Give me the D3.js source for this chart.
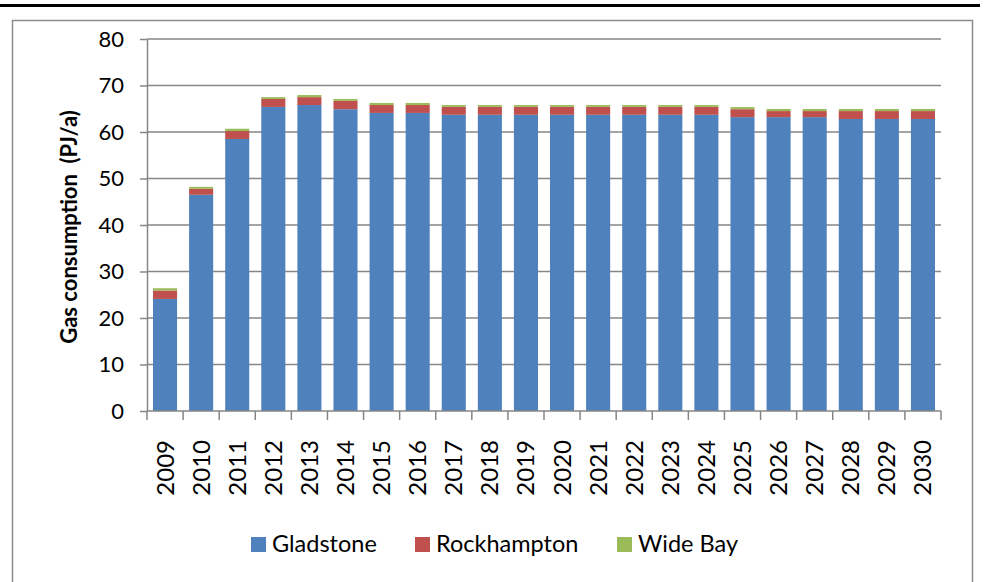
<!DOCTYPE html>
<html>
<head>
<meta charset="utf-8">
<script src="https://cdn.jsdelivr.net/npm/d3@7"></script>
<style>
  html, body { margin: 0; padding: 0; background: #fff; }
  svg { display: block; }
  text { font-family: Lato, "Open Sans", sans-serif; fill: #000; }
</style>
</head>
<body>
<svg id="chart" width="995" height="582"></svg>
<script>
// Gas consumption by region, PJ/a
const years = ["2009","2010","2011","2012","2013","2014","2015","2016","2017","2018","2019",
               "2020","2021","2022","2023","2024","2025","2026","2027","2028","2029","2030"];
const gladstone   = [24.1,46.5,58.5,65.4,65.8,64.9,64.1,64.1,63.7,63.7,63.7,63.7,63.7,63.7,63.7,63.7,63.2,63.2,63.2,62.8,62.8,62.8];
const rockhampton = [1.8,1.3,1.7,1.7,1.7,1.8,1.7,1.7,1.7,1.7,1.7,1.7,1.7,1.7,1.7,1.7,1.7,1.3,1.3,1.7,1.7,1.7];
const wideBay     = [0.5,0.4,0.5,0.4,0.45,0.4,0.45,0.45,0.4,0.4,0.4,0.4,0.4,0.4,0.4,0.4,0.45,0.45,0.45,0.45,0.45,0.45];
const seriesNames = ["Gladstone","Rockhampton","Wide Bay"];
const seriesColors = ["#4F81BD","#C0504D","#9BBB59"];
const yTicks = [0,10,20,30,40,50,60,70,80];
const yTitle = "Gas consumption  (PJ/a)";

const svg = d3.select("#chart");
const plot = { left: 147, right: 941, top: 39, bottom: 411 };

// frame: heavy rule across the top and a grey chart border
svg.append("rect").attr("x", 0).attr("y", 4).attr("width", 980).attr("height", 3).attr("fill", "#000");
svg.append("rect").attr("x", 12.5).attr("y", 20.5).attr("width", 960).attr("height", 600)
  .attr("fill", "none").attr("stroke", "#8c8c8c").attr("stroke-width", 1.5);

const x = d3.scaleBand().domain(years).range([plot.left, plot.right]).paddingInner(1/3).paddingOuter(1/6);
const y = d3.scaleLinear().domain([0, 80]).range([plot.bottom, plot.top]);

// horizontal gridlines
svg.append("g").selectAll("line").data(yTicks.filter(d => d > 0)).join("line")
  .attr("x1", plot.left).attr("x2", plot.right)
  .attr("y1", d => y(d)).attr("y2", d => y(d))
  .attr("stroke", "#868686").attr("stroke-width", 1.5);

// stacked bars
const rows = years.map((yr, i) => ({ year: yr, "Gladstone": gladstone[i], "Rockhampton": rockhampton[i], "Wide Bay": wideBay[i] }));
const stacked = d3.stack().keys(seriesNames)(rows);
svg.append("g").selectAll("g").data(stacked).join("g")
  .attr("fill", (d, i) => seriesColors[i])
  .selectAll("rect").data(d => d).join("rect")
  .attr("x", d => x(d.data.year))
  .attr("width", x.bandwidth())
  .attr("y", d => y(d[1]))
  .attr("height", d => y(d[0]) - y(d[1]));

// y axis
const yAxis = svg.append("g").attr("transform", `translate(${plot.left},0)`)
  .call(d3.axisLeft(y).tickValues(yTicks).tickSize(7).tickPadding(16).tickSizeOuter(0));
yAxis.select(".domain").attr("stroke", "#868686").attr("stroke-width", 1.5);
yAxis.selectAll(".tick line").attr("stroke", "#868686").attr("stroke-width", 1.5);
yAxis.selectAll(".tick text").attr("font-size", 22).attr("font-family", "Lato, sans-serif").attr("fill", "#000");

// x axis: ticks on category boundaries, labels rotated
const xAxis = svg.append("g").attr("transform", `translate(0,${plot.bottom})`);
xAxis.append("line").attr("x1", plot.left).attr("x2", plot.right).attr("y1", 0).attr("y2", 0)
  .attr("stroke", "#868686").attr("stroke-width", 1.5);
const step = x.step();
const bounds = d3.range(years.length + 1).map(i => plot.left + i * step);
xAxis.selectAll("line.tick").data(bounds).join("line").attr("class", "tick")
  .attr("x1", d => d).attr("x2", d => d).attr("y1", 0).attr("y2", 9)
  .attr("stroke", "#868686").attr("stroke-width", 1.5);
xAxis.selectAll("text").data(years).join("text")
  .attr("transform", d => `translate(${x(d) + x.bandwidth() / 2 + 8.5},29) rotate(-90)`)
  .attr("text-anchor", "end")
  .attr("font-size", 24)
  .text(d => d);

// y title
svg.append("text")
  .attr("transform", "translate(77,227) rotate(-90)")
  .attr("text-anchor", "middle")
  .attr("font-size", 22).attr("font-weight", "bold")
  .style("white-space", "pre")
  .text(yTitle);

// legend
const legendX = [251, 415, 617];
const legend = svg.append("g").selectAll("g").data(seriesNames).join("g")
  .attr("transform", (d, i) => `translate(${legendX[i]},537)`);
legend.append("rect").attr("width", 15).attr("height", 15).attr("fill", (d, i) => seriesColors[i]);
legend.append("text").attr("x", 21).attr("y", 15).attr("font-size", 23.5).text(d => d);
</script>
</body>
</html>
